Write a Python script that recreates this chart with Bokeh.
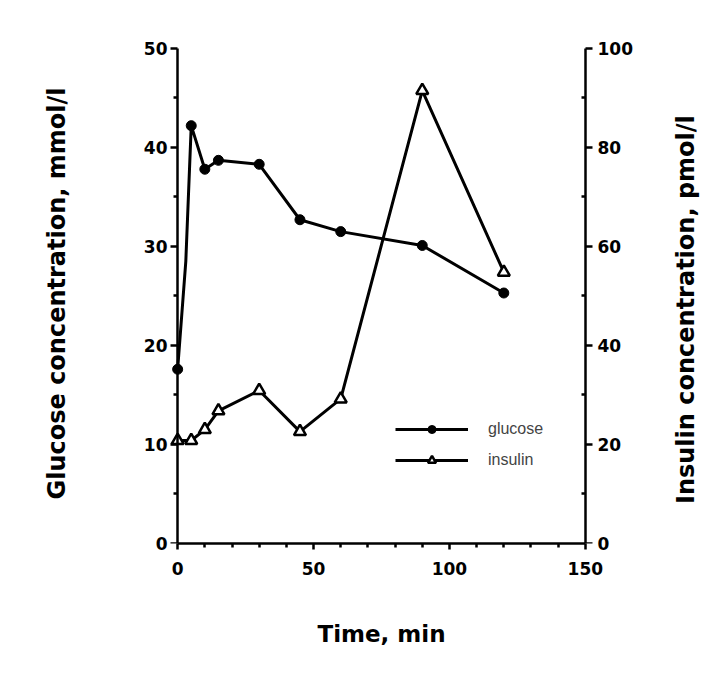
import math
from bokeh.plotting import figure
from bokeh.layouts import row
from bokeh.models import Range1d, LinearAxis, FixedTicker, Legend, LegendItem
from bokeh.core.properties import value
from bokeh.embed import file_html
from bokeh.resources import INLINE

# ---- data ----
time_min = [0, 5, 10, 15, 30, 45, 60, 90, 120]
glucose = [17.6, 42.2, 37.8, 38.7, 38.3, 32.7, 31.5, 30.1, 25.3]
insulin = [20.8, 20.8, 23.0, 26.8, 30.9, 22.6, 29.2, 91.5, 54.8]
# glucose trace as drawn (has an unmarked bend between 0 and 5 min)
glucose_trace_time = [0, 3, 5, 10, 15, 30, 45, 60, 90, 120]
glucose_trace = [17.6, 28.5, 42.2, 37.8, 38.7, 38.3, 32.7, 31.5, 30.1, 25.3]

x_ticks = [0, 50, 100, 150]
x_minor = [10, 20, 30, 40, 60, 70, 80, 90, 110, 120, 130, 140]
g_ticks = [0, 10, 20, 30, 40, 50]
g_minor = [5, 15, 25, 35, 45]
i_ticks = [0, 20, 40, 60, 80, 100]
i_minor = [10, 30, 50, 70, 90]

x_label = "Time, min"
g_label = "Glucose concentration, mmol/l"
i_label = "Insulin concentration, pmol/l"
series_names = ["glucose", "insulin"]

FONT = "DejaVu Sans"
TICK_SIZE = "17px"
YLABEL_SIZE = "24px"
XLABEL_SIZE = "23px"

FIG_H = 667
# plot area is padded a little beyond the axes so end markers are not clipped
p = figure(frame_width=424, frame_height=500,
           x_range=Range1d(-3, 153), y_range=Range1d(0, 50.5),
           output_backend="svg", toolbar_location=None,
           x_axis_location=None, y_axis_location=None,
           min_border_left=169, min_border_right=55,
           min_border_top=43, min_border_bottom=124,
           outline_line_color=None, background_fill_color="white")
p.xgrid.visible = False
p.ygrid.visible = False
p.extra_y_ranges = {"ins": Range1d(0, 101)}


def style(ax):
    ax.axis_line_width = 2.5
    ax.axis_line_color = "black"
    ax.major_tick_line_width = 2.5
    ax.minor_tick_line_width = 2.5
    ax.major_tick_line_color = "black"
    ax.minor_tick_line_color = "black"
    ax.major_label_text_font = FONT
    ax.major_label_text_font_style = "bold"
    ax.major_label_text_font_size = TICK_SIZE
    ax.major_label_text_color = "black"
    ax.axis_label_text_font = FONT
    ax.axis_label_text_font_style = "bold"
    ax.axis_label_text_color = "black"


def labels_only(ax):
    ax.axis_line_color = None
    ax.major_tick_line_color = None
    ax.minor_tick_line_color = None
    ax.major_tick_in = 0
    ax.major_tick_out = 0
    ax.minor_tick_in = 0
    ax.minor_tick_out = 0


def rule(loc, bounds, tick_values, tick_in, tick_out, range_name="default", line=True):
    # an axis line with ticks only (ticks passed as minor ticks -> no labels)
    ax = LinearAxis(fixed_location=loc, bounds=bounds, y_range_name=range_name,
                    ticker=FixedTicker(ticks=[], minor_ticks=tick_values))
    style(ax)
    ax.major_tick_in = 0
    ax.major_tick_out = 0
    ax.major_label_standoff = 0
    ax.minor_tick_in = tick_in
    ax.minor_tick_out = tick_out
    if not line:
        ax.axis_line_color = None
    return ax


# ---- x axis ----
xa = LinearAxis(bounds=(0, 150), ticker=FixedTicker(ticks=x_ticks, minor_ticks=x_minor),
                axis_label=x_label)
style(xa)
xa.axis_label_text_font_size = XLABEL_SIZE
xa.major_tick_in = 0
xa.major_tick_out = 6
xa.minor_tick_in = 0
xa.minor_tick_out = 4
xa.major_label_standoff = 12
xa.axis_label_standoff = 43
p.add_layout(xa, "below")

# ---- glucose axis: labels at the panel edge, rule + ticks at x = 0 ----
ga = LinearAxis(ticker=FixedTicker(ticks=g_ticks, minor_ticks=g_minor),
                axis_label=g_label)
style(ga)
labels_only(ga)
ga.axis_label_text_font_size = YLABEL_SIZE
ga.major_label_standoff = 2
ga.axis_label_standoff = 70
p.add_layout(ga, "left")
p.add_layout(rule(0, (0, 50), g_ticks, 0, 7), "left")
p.add_layout(rule(0, (0, 50), g_minor, 0, 4, line=False), "left")

# ---- insulin axis: labels at the panel edge, rule + ticks at x = 150 ----
ia = LinearAxis(y_range_name="ins",
                ticker=FixedTicker(ticks=i_ticks, minor_ticks=i_minor))
style(ia)
labels_only(ia)
ia.major_label_standoff = 4
p.add_layout(ia, "right")
p.add_layout(rule(150, (0, 100), i_ticks, 0, 7, range_name="ins"), "right")
p.add_layout(rule(150, (0, 100), i_minor, 4, 0, range_name="ins", line=False), "right")

# ---- data ----
g_line = p.line(glucose_trace_time, glucose_trace, line_color="black", line_width=3)
g_pts = p.scatter(time_min, glucose, marker="circle", size=10,
                  fill_color="black", line_color="black")
i_line = p.line(time_min, insulin, line_color="black", line_width=3, y_range_name="ins")
i_pts = p.scatter(time_min, insulin, marker="triangle", size=12, fill_color="white",
                  line_color="black", line_width=2.5, y_range_name="ins")

legend = Legend(items=[LegendItem(label=series_names[0], renderers=[g_line, g_pts]),
                       LegendItem(label=series_names[1], renderers=[i_line, i_pts])],
                location=(226, 73), glyph_width=73, glyph_height=20,
                label_standoff=20, spacing=11, padding=0, margin=0,
                border_line_color=None, background_fill_alpha=0,
                label_text_font="Liberation Sans", label_text_font_size="16px",
                label_height=20)
p.add_layout(legend)

# ---- right-hand axis title, reading bottom-to-top like the left one ----
t = figure(width=76, height=FIG_H, x_range=Range1d(0, 76), y_range=Range1d(0, FIG_H),
           output_backend="svg", toolbar_location=None,
           x_axis_location=None, y_axis_location=None, min_border=0,
           outline_line_color=None, background_fill_color="white")
t.xgrid.visible = False
t.ygrid.visible = False
t.text(x=[37], y=[FIG_H - 355], text=[i_label], angle=math.pi / 2,
       text_align="center", text_baseline="middle",
       text_font=value(FONT), text_font_style="bold",
       text_font_size=value(YLABEL_SIZE), text_color="black")

open("out.html", "w").write(file_html(row(p, t), INLINE))
